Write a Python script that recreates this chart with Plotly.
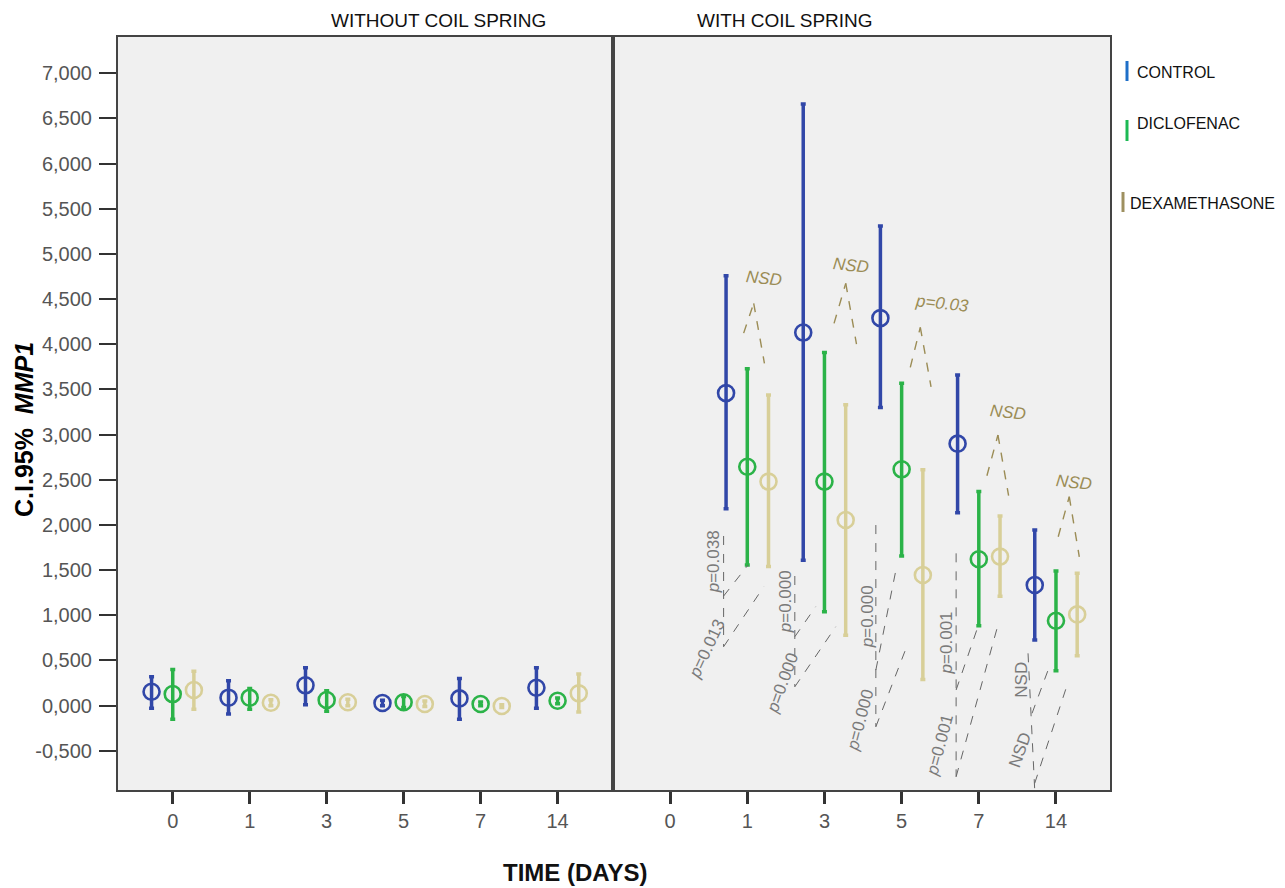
import plotly.graph_objects as go

# ---------------- data ----------------
days = ["0", "1", "3", "5", "7", "14"]
groups = ["CONTROL", "DICLOFENAC", "DEXAMETHASONE"]

# WITHOUT COIL SPRING (mean, lower 95% CI, upper 95% CI)
control_mean_wo = [0.154, 0.088, 0.225, 0.029, 0.080, 0.198]
control_lo_wo = [-0.030, -0.093, 0.010, 0.000, -0.150, -0.030]
control_hi_wo = [0.320, 0.276, 0.420, 0.060, 0.300, 0.420]
diclo_mean_wo = [0.128, 0.088, 0.062, 0.037, 0.018, 0.054]
diclo_lo_wo = [-0.150, -0.040, -0.063, -0.020, 0.000, 0.020]
diclo_hi_wo = [0.400, 0.190, 0.165, 0.100, 0.040, 0.085]
dexa_mean_wo = [0.173, 0.032, 0.037, 0.018, -0.004, 0.136]
dexa_lo_wo = [-0.040, 0.000, 0.000, -0.010, -0.020, -0.070]
dexa_hi_wo = [0.380, 0.065, 0.070, 0.050, 0.010, 0.350]

# WITH COIL SPRING
control_mean_w = [None, 3.46, 4.13, 4.29, 2.90, 1.335]
control_lo_w = [None, 2.18, 1.61, 3.30, 2.135, 0.726]
control_hi_w = [None, 4.76, 6.66, 5.31, 3.66, 1.944]
diclo_mean_w = [None, 2.645, 2.48, 2.616, 1.62, 0.94]
diclo_lo_w = [None, 1.556, 1.04, 1.656, 0.885, 0.386]
diclo_hi_w = [None, 3.73, 3.91, 3.57, 2.37, 1.49]
dexa_mean_w = [None, 2.48, 2.055, 1.446, 1.65, 1.01]
dexa_lo_w = [None, 1.54, 0.78, 0.29, 1.21, 0.552]
dexa_hi_w = [None, 3.44, 3.33, 2.61, 2.10, 1.465]

y_ticks = [-0.5 + 0.5 * k for k in range(16)]
y_ticktext = [f"{v:.3f}".replace(".", ",") for v in y_ticks]

# significance annotations (right panel, data coordinates)
top_labels = ["NSD", "NSD", "p=0.03", "NSD", "NSD"]
top_label_x = [1.218, 2.341, 3.524, 4.378, 5.231]
top_label_y = [4.73, 4.877, 4.454, 3.247, 2.468]
top_caret_x = [[0.953, 1.083, 1.222], [2.124, 2.276, 2.415], [3.112, 3.242, 3.381],
               [4.105, 4.248, 4.386], [5.029, 5.172, 5.302]]
top_caret_y = [[4.124, 4.454, 3.790], [4.232, 4.675, 4.003], [3.745, 4.188, 3.530],
               [2.545, 2.996, 2.324], [1.870, 2.313, 1.648]]

bot_labels = ["<i>p</i>=0.038", "<i>p</i>=0.013", "<i>p</i>=0.000", "<i>p</i>=0.000",
              "<i>p</i>=0.000", "<i>p</i>=0.000", "<i>p</i>=0.001", "<i>p</i>=0.001",
              "NSD", "NSD"]
bot_label_x = [0.563, 0.477, 1.495, 1.452, 2.558, 2.471, 3.576, 3.489, 4.542, 4.529]
bot_label_y = [1.593, 0.634, 1.150, 0.247, 0.984, -0.159, 0.690, -0.436, 0.283, -0.492]
bot_label_angle = [-90, -65, -90, -70, -90, -75, -90, -75, -90, -70]
bot_segments = [
    (0.693, 1.878, 0.693, 0.652), (0.693, 1.213, 1.010, 1.557), (0.693, 0.652, 1.213, 1.316),
    (1.616, 1.435, 1.616, 0.209), (1.616, 0.763, 1.886, 1.095), (1.616, 0.209, 2.146, 0.873),
    (2.666, 1.999, 2.666, -0.234), (2.666, 0.394, 2.939, 1.557), (2.666, -0.234, 3.065, 0.652),
    (3.706, 1.686, 3.706, -0.787), (3.706, 0.173, 3.988, 0.873), (3.706, -0.787, 4.248, 0.892),
    (4.638, 0.579, 4.724, -0.923), (4.690, -0.085, 4.898, 0.394), (4.724, -0.860, 5.159, 0.265),
]

# ---------------- styling ----------------
OFF = 8  # page body margin
W, H = 1285 - OFF, 888 - OFF
ML, MR, MT, MB = 118 - OFF, 175, 37 - OFF, 98
PW, PH = W - ML - MR, H - MT - MB


def px_x(px):
    return (px - OFF - ML) / PW


def px_y(py):
    return 1 - (py - OFF - MT) / PH


offsets = [-0.275, 0.0, 0.275]
colors = ["#3147a8", "#2bb348", "#d8cf98"]
legend_colors = ["#1e6fc8", "#1db954", "#9e9060"]
FONT = "Liberation Sans"

fig = go.Figure()

panels = [
    ("x", "y", [control_mean_wo, diclo_mean_wo, dexa_mean_wo],
     [control_lo_wo, diclo_lo_wo, dexa_lo_wo], [control_hi_wo, diclo_hi_wo, dexa_hi_wo]),
    ("x2", "y2", [control_mean_w, diclo_mean_w, dexa_mean_w],
     [control_lo_w, diclo_lo_w, dexa_lo_w], [control_hi_w, diclo_hi_w, dexa_hi_w]),
]

for xa, ya, means, los, his in panels:
    for g, name in enumerate(groups):
        m, lo, hi = means[g], los[g], his[g]
        xs = [i + offsets[g] for i in range(len(days))]
        up = [None if v is None else h - v for v, h in zip(m, hi)]
        dn = [None if v is None else v - l for v, l in zip(m, lo)]
        fig.add_trace(go.Scatter(
            x=xs, y=m, xaxis=xa, yaxis=ya, mode="markers", name=name, showlegend=False,
            marker=dict(symbol="circle-open", size=16, color=colors[g], line=dict(width=2.6)),
            error_y=dict(type="data", symmetric=False, array=up, arrayminus=dn,
                         color=colors[g], thickness=3.5, width=2.5),
        ))

axis_common = dict(showgrid=False, zeroline=False, showline=True, mirror=True,
                   linecolor="#444444", linewidth=2)

fig.update_layout(
    width=W, height=H,
    margin=dict(l=ML, r=MR, t=MT, b=MB),
    paper_bgcolor="white", plot_bgcolor="#f0f0f0",
    font=dict(family=FONT),
    xaxis=dict(domain=[0, 0.499], range=[-0.711, 5.72], tickmode="array",
               tickvals=list(range(len(days))), ticktext=days, ticks="outside", ticklen=12,
               tickwidth=2.5, tickcolor="#333333", tickfont=dict(size=20, color="#555555"),
               anchor="y", **axis_common),
    xaxis2=dict(domain=[0.499, 1], range=[-0.74, 5.70], tickmode="array",
                tickvals=list(range(len(days))), ticktext=days, ticks="outside", ticklen=12,
                tickwidth=2.5, tickcolor="#333333", tickfont=dict(size=20, color="#555555"),
                anchor="y2", **axis_common),
    yaxis=dict(range=[-0.934, 7.402], tickmode="array", tickvals=y_ticks, ticktext=y_ticktext,
               ticks="outside", ticklen=17, tickwidth=2, tickcolor="#333333",
               tickfont=dict(size=20, color="#555555"), ticklabelstandoff=3,
               anchor="x", **axis_common),
    yaxis2=dict(matches="y", range=[-0.934, 7.402], showticklabels=False, ticks="",
                anchor="x2", **axis_common),
)

shapes = []
annotations = []


def paper_text(text, x, y, size, color, angle=0, xanchor="center"):
    return dict(text=text, xref="paper", yref="paper", x=px_x(x), y=px_y(y),
                xanchor=xanchor, yanchor="middle", showarrow=False, textangle=angle,
                font=dict(size=size, color=color))


# panel titles
annotations.append(paper_text("WITHOUT COIL SPRING", 438, 20, 19, "#111111"))
annotations.append(paper_text("WITH COIL SPRING", 785, 20, 19, "#111111"))
# axis titles
annotations.append(paper_text("<b>TIME (DAYS)</b>", 575, 873, 24, "#111111"))
annotations.append(paper_text("<b>C.I.95%\u00a0 <i>MMP1</i></b>", 24, 430, 25, "#000000", angle=-90))

# legend (custom)
leg_bar_x = [1127, 1127, 1123]
leg_bar_y = [(61, 81), (120, 141), (192, 212)]
leg_text_x = [1135, 1135, 1128]
leg_text_y = [73, 123, 203]
for g, name in enumerate(groups):
    shapes.append(dict(type="line", xref="paper", yref="paper",
                       x0=px_x(leg_bar_x[g]), x1=px_x(leg_bar_x[g]),
                       y0=px_y(leg_bar_y[g][0]), y1=px_y(leg_bar_y[g][1]),
                       line=dict(color=legend_colors[g], width=3)))
    annotations.append(paper_text(name, leg_text_x[g], leg_text_y[g], 16, "#111111",
                                  xanchor="left"))

# top significance carets
olive = "#9b8c55"
for i, lab in enumerate(top_labels):
    annotations.append(dict(text=f"<i>{lab}</i>", xref="x2", yref="y2", x=top_label_x[i],
                            y=top_label_y[i], xanchor="center", yanchor="middle",
                            showarrow=False, textangle=6,
                            font=dict(size=17, color=olive)))
    cx, cy = top_caret_x[i], top_caret_y[i]
    for k in range(2):
        shapes.append(dict(type="line", xref="x2", yref="y2", x0=cx[k], y0=cy[k],
                           x1=cx[k + 1], y1=cy[k + 1],
                           line=dict(color=olive, width=1.4, dash="dash")))

# bottom pairwise annotations
gray = "#7a7a7a"
for i, lab in enumerate(bot_labels):
    annotations.append(dict(text=lab, xref="x2", yref="y2", x=bot_label_x[i],
                            y=bot_label_y[i], xanchor="center", yanchor="middle",
                            showarrow=False, textangle=bot_label_angle[i],
                            font=dict(size=17, color=gray)))
for (x0, y0, x1, y1) in bot_segments:
    shapes.append(dict(type="line", xref="x2", yref="y2", x0=x0, y0=y0, x1=x1, y1=y1,
                       line=dict(color="#666666", width=1, dash="dash")))

fig.update_layout(shapes=shapes, annotations=annotations)

fig.write_html("out.html")
